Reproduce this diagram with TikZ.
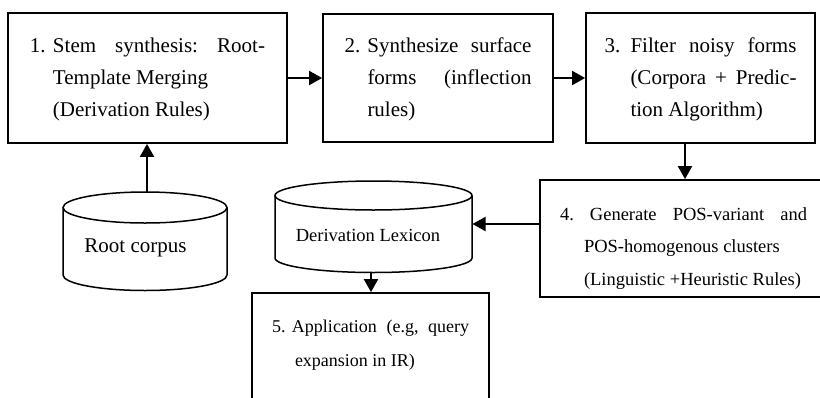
\documentclass[tikz,border=0pt]{standalone}
\usepackage{fontspec}
\setmainfont{Liberation Serif}
\usetikzlibrary{arrows.meta}
\newcommand\drawcyl[5]{%
  \draw[cylline, fill=white] (#1-#4,#2) -- (#1-#4,#3) arc[start angle=180,end angle=0,x radius=#4,y radius=#5] -- (#1+#4,#2);
  \draw[cylline] (#1,#2) ellipse[x radius=#4, y radius=#5];}
\tikzset{
  box/.style={draw, line width=1.8pt, rectangle, inner sep=0pt},
  arr/.style={line width=2pt, -{Triangle[length=13pt,width=14pt]}},
  cylline/.style={line width=1.5pt},
  big/.style={font=\fontsize{21}{32}\selectfont\frenchspacing},
  small/.style={font=\fontsize{18.5}{32.5}\selectfont\frenchspacing},
  smaller/.style={font=\fontsize{18}{34}\selectfont\frenchspacing},
}
\begin{document}
\begin{tikzpicture}[x=1pt,y=-1pt]
\useasboundingbox (0,0) rectangle (820,397);
\fill[white] (0,0) rectangle (820,397);
\clip (0,0) rectangle (820,397);

% process boxes
\node[box, big, minimum width=279pt, minimum height=130pt] (b1) at (147.5,78)
  {\begin{tabular}{@{}p{23pt}@{}p{212pt}@{}}1. & \makebox[212pt][s]{Stem synthesis: Root-}\\ & Template Merging\\ & (Derivation Rules)\end{tabular}};
\node[box, big, minimum width=230pt, minimum height=128pt] (b2) at (438,78)
  {\begin{tabular}{@{}p{23pt}@{}p{164pt}@{}}2. & \makebox[164pt][s]{Synthesize surface}\\ & \makebox[164pt][s]{forms (inflection}\\ & rules)\end{tabular}};
\node[box, big, minimum width=229pt, minimum height=130pt] (b3) at (700.5,78)
  {\begin{tabular}{@{}p{26pt}@{}p{166pt}@{}}3. & \makebox[166pt][s]{Filter noisy forms}\\ & \makebox[166pt][s]{(Corpora + Predic-}\\ & tion Algorithm)\end{tabular}};
\node[box, minimum width=290pt, minimum height=117pt] (b4) at (685,238.5) {};
\node[small] (t4) at (683.5,246)
  {\begin{tabular}{@{}p{24pt}@{}p{223pt}@{}}\multicolumn{2}{@{}l@{}}{\makebox[247pt][s]{4. Generate POS-variant and}}\\ & POS-homogenous clusters\\ & (Linguistic +Heuristic Rules)\end{tabular}};
\node[box, minimum width=237pt, minimum height=127pt] (b5) at (370.5,356.5) {};
\node[smaller] (t5) at (370.5,343)
  {\begin{tabular}{@{}p{20pt}@{}p{177pt}@{}}5. & \makebox[177pt][s]{Application (e.g, query}\\ & \hspace{3pt}expansion in IR)\end{tabular}};

% cylinders
\drawcyl{145}{207.5}{275}{82}{15.5}
\node[big] (rc) at (135.5,247.5) {Root corpus};
\drawcyl{373.5}{195.5}{258}{98.5}{14.5}
\node[small] (dl) at (368,235) {Derivation Lexicon};

\coordinate (rcT) at (147,192);
\coordinate (dlE) at (472.5,224);
\coordinate (dlB) at (371,272.5);
\coordinate (c34) at (685,150);

% connectors
\draw[arr] (b1.east) -- (b1.east -| b2.west);
\draw[arr] (b2.east) -- (b2.east -| b3.west);
\draw[arr] (b3.south -| c34) -- (b4.north -| c34);
\draw[arr] (b4.west |- dlE) -- (dlE);
\draw[arr] (dlB) -- (b5.north -| dlB);
\draw[arr] (rcT) -- (b1.south -| rcT);
\end{tikzpicture}
\end{document}
